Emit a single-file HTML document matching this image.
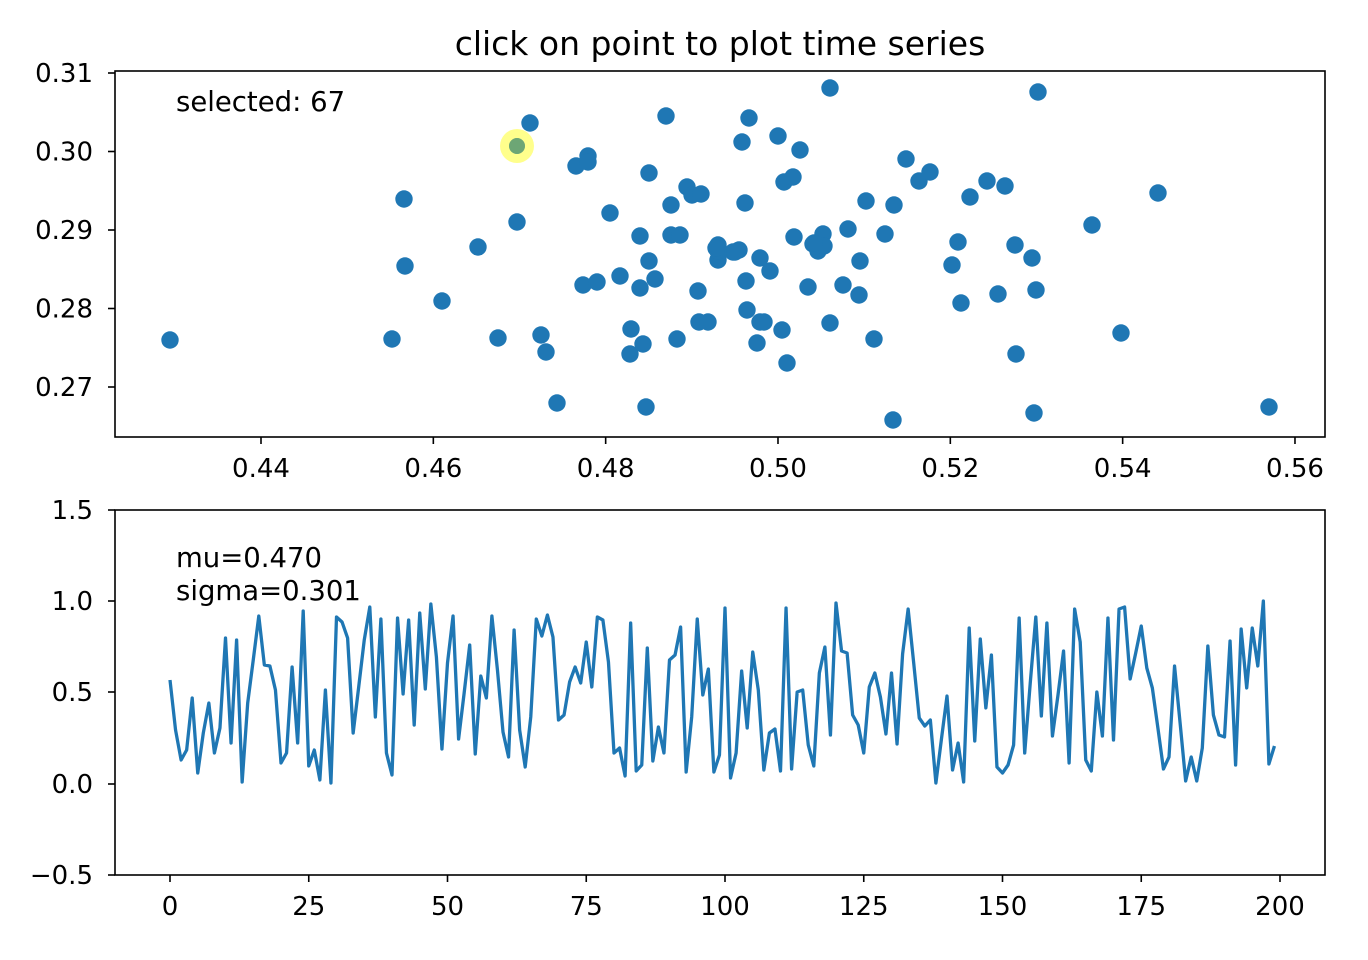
<!DOCTYPE html>
<html><head><meta charset="utf-8"><style>
html,body{margin:0;padding:0;background:#fff;}
svg{display:block;font-family:"DejaVu Sans","Liberation Sans",sans-serif;}
</style></head><body>
<svg id="s" width="1368" height="960" viewBox="0 0 1368 960" xmlns="http://www.w3.org/2000/svg">
<rect width="1368" height="960" fill="#fff"/>
<text x="720" y="55" font-size="33" text-anchor="middle">click on point to plot time series</text>
<g id="sc"></g>
<circle cx="517" cy="146" r="17" fill="yellow" fill-opacity="0.45"/>
<circle cx="517" cy="146" r="8" fill="#1f77b4"/>
<circle cx="517" cy="146" r="8" fill="yellow" fill-opacity="0.35"/>
<rect x="115" y="71" width="1210" height="366" fill="none" stroke="#000" stroke-width="1.6"/>
<text x="176" y="111" font-size="27.5">selected: 67</text>
<polyline id="ln" fill="none" stroke="#1f77b4" stroke-width="3.3" stroke-linejoin="round" points=""/>
<rect x="115" y="510" width="1210" height="365" fill="none" stroke="#000" stroke-width="1.6"/>
<text x="176" y="567" font-size="27.5">mu=0.470</text>
<text x="176" y="600" font-size="27.5">sigma=0.301</text>
<g id="ax" font-size="26"></g>
</svg>
<script>
var NS="http://www.w3.org/2000/svg";
function el(t,a,p,txt){var e=document.createElementNS(NS,t);for(var k in a)e.setAttribute(k,a[k]);if(txt!==undefined)e.textContent=txt;p.appendChild(e);return e;}
var pts=[[170,340],[392,339],[404,199],[405,266],[442,301],[478,247],[498,338],[517,222],[530,123],[541,335],[546,352],[557,403],[576,166],[588,156],[588,162],[583,285],[597,282],[610,213],[620,276],[631,329],[630,354],[640,236],[640,288],[643,344],[649,173],[649,261],[646,407],[655,279],[666,116],[671,205],[671,235],[680,235],[677,339],[687,187],[692,195],[701,194],[698,291],[699,322],[708,322],[718,245],[718,260],[718,251],[733,252],[739,250],[742,142],[745,203],[746,281],[749,118],[747,310],[757,343],[760,258],[760,322],[764,322],[770,271],[778,136],[782,330],[784,182],[787,363],[793,177],[794,237],[800,150],[808,287],[813,244],[818,251],[823,234],[824,246],[830,88],[830,323],[843,285],[848,229],[859,295],[860,261],[866,201],[874,339],[885,234],[893,420],[894,205],[906,159],[919,181],[930,172],[952,265],[958,242],[961,303],[970,197],[987,181],[998,294],[1005,186],[1015,245],[1016,354],[1032,258],[1034,413],[1036,290],[1038,92],[1092,225],[1121,333],[1158,193],[1269,407],[735,252],[716,248],[814,243]];
var sc=document.getElementById("sc");
pts.forEach(function(p){el("circle",{cx:p[0],cy:p[1],r:8.7,fill:"#1f77b4"},sc);});
var ys=[680,730,760,750,698,773,733,703,753,728,638,743,640,782,703,660,616,665,666,690,763,753,667,743,611,766,750,780,690,783,617,622,638,733,687,640,607,717,619,753,775,618,694,620,725,613,689,604,657,749,663,616,739,693,645,754,676,698,616,670,732,757,630,730,767,717,619,636,615,637,720,715,682,667,683,642,687,617,620,662,753,748,776,623,771,765,648,761,727,753,660,655,627,772,717,619,695,669,772,755,608,778,753,671,728,652,690,770,733,729,771,608,769,692,690,745,766,673,647,735,603,651,653,715,725,753,687,673,697,734,673,744,654,609,663,718,726,720,783,739,696,770,743,782,628,741,639,708,655,767,773,765,745,618,753,683,617,716,623,736,695,651,763,609,642,760,771,692,736,618,740,609,607,679,653,626,668,688,728,769,757,666,723,781,757,781,748,646,715,735,737,641,765,629,688,628,666,601,764,746];
document.getElementById("ln").setAttribute("points",ys.map(function(y,i){return (170+5.55*i).toFixed(2)+","+y;}).join(" "));
var ax=document.getElementById("ax");
function yt(y,l){el("line",{x1:108,x2:115,y1:y,y2:y,stroke:"#000","stroke-width":1.6},ax);el("text",{x:93,y:y+9,"text-anchor":"end"},ax,l);}
function xt(x,yb,l){el("line",{x1:x,x2:x,y1:yb,y2:yb+7,stroke:"#000","stroke-width":1.6},ax);el("text",{x:x,y:yb+40,"text-anchor":"middle"},ax,l);}
[["0.31",73],["0.30",151.5],["0.29",230],["0.28",308.5],["0.27",387]].forEach(function(a){yt(a[1],a[0]);});
["0.44","0.46","0.48","0.50","0.52","0.54","0.56"].forEach(function(l,k){xt(261+172.33*k,437,l);});
[["1.5",510],["1.0",601],["0.5",692],["0.0",784],["\u22120.5",875]].forEach(function(a){yt(a[1],a[0]);});
["0","25","50","75","100","125","150","175","200"].forEach(function(l,k){xt(170+138.75*k,875,l);});
</script>
</body></html>
